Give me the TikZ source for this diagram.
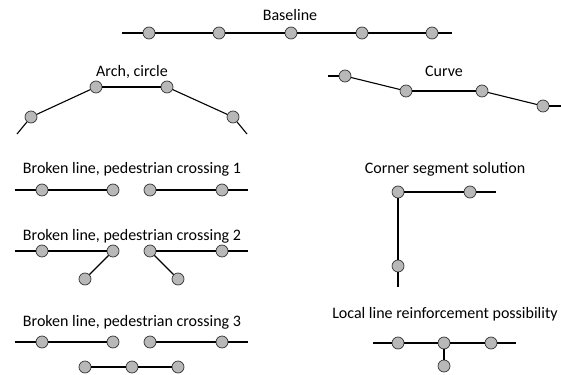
\documentclass[tikz,border=0pt]{standalone}
\usepackage{fontspec}
\setmainfont{Carlito}
\usetikzlibrary{positioning}

\begin{document}
\begin{tikzpicture}[x=1pt,y=-1pt,
  pt/.style={circle,draw=black!80,fill=black!28,line width=0.7pt,minimum size=12pt,inner sep=0pt},
  seg/.style={line width=1.1pt},
  lbl/.style={anchor=base,font=\fontsize{16}{18}\selectfont}]
\useasboundingbox (0,0) rectangle (561,374);
% baseline
\node[lbl] (tbase) at (290,21) {Baseline};
\coordinate (b0) at (122,33);
\coordinate (b6) at (452,33);
\foreach \i/\x in {1/149,2/219,3/291,4/362,5/432}
  \node[pt] (b\i) at (\x,33) {};
\foreach \a/\b in {0/1,1/2,2/3,3/4,4/5,5/6}
  \draw[seg] (b\a) -- (b\b);
% arch
\node[lbl] (tarch) at (132,77) {Arch, circle};
\coordinate (a0) at (17,134);
\coordinate (a5) at (247,134);
\node[pt] (a1) at (31,117) {};
\node[pt] (a2) at (96,87) {};
\node[pt] (a3) at (167,87) {};
\node[pt] (a4) at (233,117) {};
\foreach \a/\b in {0/1,1/2,2/3,3/4,4/5}
  \draw[seg] (a\a) -- (a\b);
% curve
\node[lbl] (tcurve) at (444,77) {Curve};
\coordinate (c0) at (328,76);
\coordinate (c5) at (561,106);
\node[pt] (c1) at (345,76) {};
\node[pt] (c2) at (406,91) {};
\node[pt] (c3) at (482,91) {};
\node[pt] (c4) at (543,106) {};
\foreach \a/\b in {0/1,1/2,2/3,3/4,4/5}
  \draw[seg] (c\a) -- (c\b);
% broken lines
\foreach \n/\y/\t/\k in {p/190/173/1,q/251/240/2,r/342/326/3}{
  \node[lbl] (t\n) at (132,\t) {Broken line, pedestrian crossing \k};
  \coordinate (\n0) at (15,\y);
  \coordinate (\n5) at (248,\y);
  \foreach \i/\x in {1/42,2/113,3/150,4/222}
    \node[pt] (\n\i) at (\x,\y) {};
  \draw[seg] (\n0) -- (\n1) -- (\n2);
  \draw[seg] (\n3) -- (\n4) -- (\n5);
}
% crossing 2, side arms
\node[pt] (q6) at (85,279) {};
\node[pt] (q7) at (178,279) {};
\draw[seg] (q2) -- (q6);
\draw[seg] (q3) -- (q7);
% crossing 3, lower row
\node[pt] (r6) at (85,367) {};
\node[pt] (r7) at (132,367) {};
\node[pt] (r8) at (178,367) {};
\draw[seg] (r6) -- (r7) -- (r8);
% corner
\node[lbl] (tcorner) at (445,173) {Corner segment solution};
\node[pt] (k1) at (398,192) {};
\node[pt] (k2) at (470,192) {};
\node[pt] (k3) at (398,266) {};
\coordinate (k0) at (496,192);
\coordinate (k4) at (398,287);
\draw[seg] (k0) -- (k2) -- (k1) -- (k3) -- (k4);
% local reinforcement
\node[lbl] (tlocal) at (445,318) {Local line reinforcement possibility};
\coordinate (l0) at (373,343);
\coordinate (l4) at (516,343);
\node[pt] (l1) at (398,343) {};
\node[pt] (l2) at (444,343) {};
\node[pt] (l3) at (491,343) {};
\node[pt] (l5) at (444,366) {};
\draw[seg] (l0) -- (l1) -- (l2) -- (l3) -- (l4);
\draw[seg] (l2) -- (l5);
\end{tikzpicture}
\end{document}
